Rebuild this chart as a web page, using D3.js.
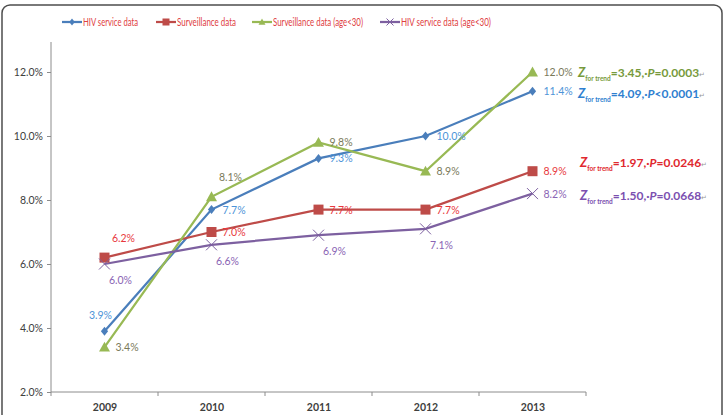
<!DOCTYPE html>
<html><head><meta charset="utf-8">
<script src="https://cdn.jsdelivr.net/npm/d3@7"></script>
<style>body{margin:0;background:#fff}svg{display:block}text{font-family:Lato,"Open Sans",sans-serif}</style>
</head><body>
<svg id="c" width="725" height="415"></svg>
<script>
const years = ["2009","2010","2011","2012","2013"];
const hivService = [3.9, 7.7, 9.3, 10.0, 11.4];
const surveillance = [6.2, 7.0, 7.7, 7.7, 8.9];
const surveillanceU30 = [3.4, 8.1, 9.8, 8.9, 12.0];
const hivServiceU30 = [6.0, 6.6, 6.9, 7.1, 8.2];
const yTicks = [2, 4, 6, 8, 10, 12];
const seriesNames = ["HIV service data", "Surveillance data", "Surveillance data (age<30)", "HIV service data  (age<30)"];
const labelPos = [
  ["ul","r","r","r","r"],
  ["u","r","r","r","r"],
  ["r","u","r","r","r"],
  ["d","d","d","d","r"]
];
const trendZ = ["4.09", "1.97", "3.45", "1.50"];
const trendP = ["<0.0001", "=0.0246", "=0.0003", "=0.0668"];

const series = [
  {name: seriesNames[0], values: hivService, color: "#4a7ebb", label: "#4d94d8", marker: "diamond"},
  {name: seriesNames[1], values: surveillance, color: "#be4b48", label: "#e8383d", marker: "square"},
  {name: seriesNames[2], values: surveillanceU30, color: "#98b954", label: "#7a7a5a", marker: "triangle"},
  {name: seriesNames[3], values: hivServiceU30, color: "#7d60a0", label: "#8a64b4", marker: "x"}
];

const svg = d3.select("#c");
svg.append("rect").attr("x",2).attr("y",5).attr("width",720).attr("height",420)
  .attr("rx",8).attr("fill","none").attr("stroke","#4d4d4d").attr("stroke-width",1.5);

const x = d3.scalePoint().domain(years).range([51, 586]).padding(0.5);
const y = d3.scaleLinear().domain([2, 13]).range([392, 40]);

const ya = svg.append("g").attr("transform","translate(51,0)")
  .call(d3.axisLeft(y).tickValues(yTicks).tickSize(4).tickFormat(d => d.toFixed(1) + "%"));
ya.select(".domain").attr("stroke","#8c8c8c").attr("d","M0,392V42");
ya.selectAll(".tick line").attr("stroke","#8c8c8c");
ya.selectAll("text").attr("fill","#404040").attr("font-size",10.5).attr("x",-8);

const xa = svg.append("g").attr("transform","translate(0,392)")
  .call(d3.axisBottom(x).tickSize(0).tickPadding(12));
xa.select(".domain").attr("stroke","#8c8c8c").attr("d","M51,0H586");
xa.selectAll("text").attr("fill","#404040").attr("font-size",10.5).attr("font-weight","bold");
const step = x.step();
xa.selectAll("line.sep").data(d3.range(years.length+1)).enter().append("line")
  .attr("x1", i => 51 + i*step).attr("x2", i => 51 + i*step).attr("y1",0).attr("y2",4)
  .attr("stroke","#8c8c8c");

const line = d3.line().x((d,i) => x(years[i])).y(d => y(d));

function marker(g, type, color, size) {
  if (type === "diamond") {
    const s = size/2;
    g.append("path").attr("d",`M0,${-s}L${s*0.8},0L0,${s}L${-s*0.8},0Z`).attr("fill", color);
  } else if (type === "square") {
    g.append("rect").attr("x",-size/2).attr("y",-size/2).attr("width",size).attr("height",size).attr("fill",color);
  } else if (type === "triangle") {
    const s = size/2;
    g.append("path").attr("d",`M0,${-s}L${s},${s*0.8}L${-s},${s*0.8}Z`).attr("fill", color);
  } else {
    const s = size/2;
    g.append("path").attr("d",`M${-s},${-s}L${s},${s}M${-s},${s}L${s},${-s}`)
      .attr("stroke", color).attr("stroke-width",1).attr("fill","none");
  }
}

const sizes = {diamond: 9, square: 10, triangle: 11, x: 11};
series.forEach(s => {
  svg.append("path").datum(s.values).attr("d", line).attr("fill","none")
    .attr("stroke", s.color).attr("stroke-width", 2.25);
});
series.forEach(s => {
  s.values.forEach((v, i) => {
    const g = svg.append("g").attr("transform", `translate(${x(years[i])},${y(v)})`);
    marker(g, s.marker, s.color, sizes[s.marker]);
  });
});
series.forEach((s, si) => {
  s.values.forEach((v, i) => {
    const px = x(years[i]), py = y(v);
    const pos = labelPos[si][i];
    let tx = px + 11, ty = py + 4, anchor = "start";
    if (pos === "u") { tx = px + 19; ty = py - 16; anchor = "middle"; }
    if (pos === "ul") { tx = px - 4; ty = py - 12; anchor = "middle"; }
    if (pos === "d") { tx = px + 16; ty = py + 20; anchor = "middle"; }
    svg.append("text").attr("x", tx).attr("y", ty).attr("text-anchor", anchor)
      .attr("font-size", 10.5).attr("fill", s.label).text(v.toFixed(1) + "%");
  });
});

const annot = [
  {si: 0, x: 578, y: 98, c: "#2f7fd0"},
  {si: 1, x: 580, y: 167, c: "#e0282e"},
  {si: 2, x: 578, y: 77, c: "#779a3c"},
  {si: 3, x: 580, y: 200, c: "#7b4fb0"}
];
annot.forEach(a => {
  const t = svg.append("text").attr("x", a.x).attr("y", a.y).attr("fill", a.c)
    .attr("font-size", 12).attr("font-weight", "bold");
  t.append("tspan").attr("font-style","italic").attr("font-size",13).text("Z");
  t.append("tspan").attr("font-size",6.5).attr("dy",4).text("for trend");
  t.append("tspan").attr("dy",-4).text("=" + trendZ[a.si] + ",·");
  t.append("tspan").attr("font-style","italic").text("P");
  t.append("tspan").text(trendP[a.si]);
  t.append("tspan").attr("font-size",7).attr("font-weight","normal").attr("fill","#999").text("↵");
});

const legX = [62, 156, 252, 380];
const legW = [55, 59, 90, 90];
series.forEach((s, si) => {
  const g = svg.append("g").attr("transform", `translate(${legX[si]},22)`);
  g.append("line").attr("x1",0).attr("x2",20).attr("stroke", s.color).attr("stroke-width",2.25);
  const m = g.append("g").attr("transform","translate(10,0)");
  marker(m, s.marker, s.color, 7);
  g.append("text").attr("x", 21).attr("y", 4).attr("font-size", 11.5).attr("fill","#e0403f")
    .attr("textLength", legW[si]).attr("lengthAdjust","spacingAndGlyphs").text(s.name);
});
</script>
</body></html>
